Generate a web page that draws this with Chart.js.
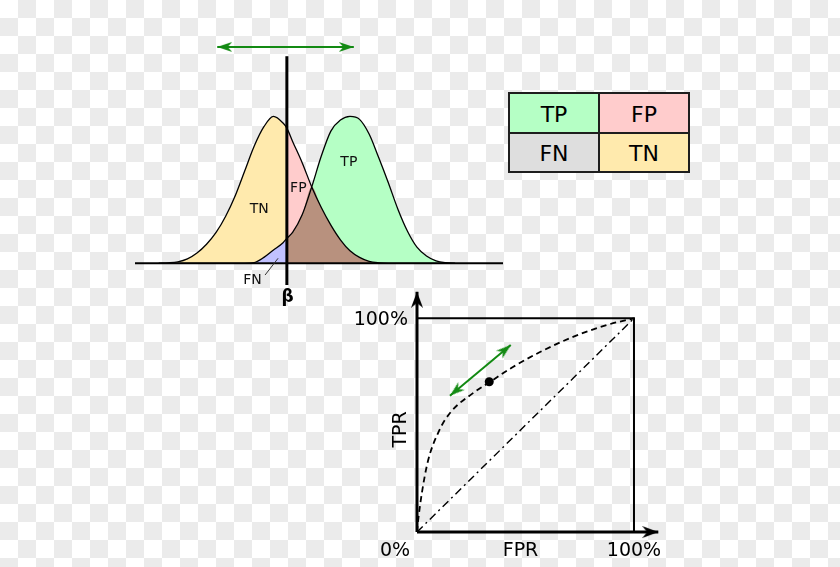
<!DOCTYPE html>
<html>
<head>
<meta charset="utf-8">
<script src="https://cdn.jsdelivr.net/npm/chart.js@4"></script>
<style>
  html, body { margin: 0; padding: 0; }
  body {
    width: 840px; height: 567px; position: relative; overflow: hidden;
    background: repeating-conic-gradient(#ebebeb 0 25%, #ffffff 0 50%) 0 0 / 36px 36px;
    font-family: 'DejaVu Sans', sans-serif;
  }
  canvas { position: absolute; left: 0; top: 0; }
  #matrix {
    position: absolute; left: 508px; top: 92px; width: 182px; height: 81px;
    box-sizing: border-box; padding: 2px; gap: 2px; background: #1e1e1e;
    display: grid; grid-template-columns: 1fr 1fr; grid-template-rows: 1fr 1fr;
  }
  #matrix div {
    display: flex; align-items: center; justify-content: center;
    font-size: 22px; color: #000; padding-top: 3px; box-sizing: border-box;
  }
</style>
</head>
<body>
<canvas id="dist" width="840" height="567"></canvas>
<canvas id="roc" width="840" height="567"></canvas>
<div id="matrix"></div>
<script>
// score axis samples, with the threshold beta as one of them
const scoreX = [1.0, 1.25, 1.5, 1.75, 2.0, 2.25, 2.5, 2.75, 3.0, 3.25, 3.5, 3.75, 4.0, 4.25, 4.35,
  4.5, 4.75, 5.0, 5.25, 5.5, 5.75, 6.0, 6.25, 6.5, 6.75, 7.0, 7.25, 7.5, 7.75, 8.0, 8.25, 8.5, 8.75];
const negativeDensity = [0, 0.003, 0.01, 0.03, 0.07, 0.13, 0.21, 0.32, 0.46, 0.63, 0.80, 0.93, 1.0, 0.955, 0.92,
  0.83, 0.685, 0.52, 0.38, 0.26, 0.16, 0.085, 0.04, 0.013, 0.003, 0, 0, 0, 0, 0, 0, 0, 0];
const positiveDensity = [0, 0, 0, 0, 0, 0, 0, 0, 0, 0, 0.005, 0.04, 0.09, 0.14, 0.17,
  0.21, 0.33, 0.52, 0.73, 0.90, 0.975, 1.0, 0.98, 0.88, 0.72, 0.55, 0.37, 0.22, 0.11, 0.05, 0.017, 0.004, 0];
const threshold = 4.35;

// ROC curve
const rocFPR = [0, 0.006, 0.022, 0.05, 0.1, 0.152, 0.258, 0.336, 0.442, 0.567, 0.719, 0.876, 1];
const rocTPR = [0, 0.06, 0.18, 0.33, 0.47, 0.557, 0.65, 0.702, 0.772, 0.842, 0.913, 0.969, 1];
const operatingPoint = { fpr: 0.333, tpr: 0.703 };

// confusion matrix
const matrixLabels = [['TP', 'FP'], ['FN', 'TN']];

const colors = {
  TN: '#ffeaad', FP: '#ffcccc', TP: '#b5ffc5', FN: '#dedede',
  fnArea: '#c1c1ff', overlap: '#b8917e', arrow: '#138a13'
};

const matrixColors = [[colors.TP, colors.FP], [colors.FN, colors.TN]];
const matrix = document.getElementById('matrix');
matrixLabels.forEach((row, r) => row.forEach((label, c) => {
  const cell = document.createElement('div');
  cell.textContent = label;
  cell.style.background = matrixColors[r][c];
  matrix.appendChild(cell);
}));

function arrowHead(color, len, half) {
  const c = document.createElement('canvas');
  c.width = len * 2;
  c.height = half * 2 + 2;
  const g = c.getContext('2d');
  const cy = c.height / 2;
  g.fillStyle = color;
  g.beginPath();
  g.moveTo(len, cy);
  g.lineTo(0, cy - half);
  g.lineTo(len * 0.3, cy);
  g.lineTo(0, cy + half);
  g.closePath();
  g.fill();
  return c;
}

function headAngle(ctx) {
  if (ctx.type !== 'data') return 0;
  const data = ctx.dataset.data;
  const i = ctx.dataIndex;
  const from = data[i === 0 ? 1 : i - 1];
  const to = data[i];
  const sx = ctx.chart.scales.x, sy = ctx.chart.scales.y;
  const dx = sx.getPixelForValue(to.x) - sx.getPixelForValue(from.x);
  const dy = sy.getPixelForValue(to.y) - sy.getPixelForValue(from.y);
  return Math.atan2(dy, dx) * 180 / Math.PI;
}

// text drawn at data positions; 'base' moves the alphabetic baseline below the visual centre
function textLabels(items) {
  return {
    id: 'textLabels',
    afterDatasetsDraw(chart) {
      const { ctx, scales: { x, y } } = chart;
      items.forEach(t => {
        ctx.save();
        ctx.font = (t.weight || '') + ' ' + t.size + 'px "DejaVu Sans"';
        ctx.fillStyle = t.color || '#000';
        ctx.textAlign = t.align || 'center';
        ctx.textBaseline = 'alphabetic';
        ctx.translate(x.getPixelForValue(t.x) + (t.dx || 0), y.getPixelForValue(t.y) + (t.dy || 0));
        ctx.rotate((t.rot || 0) * Math.PI / 180);
        ctx.fillText(t.text, 0, (t.base == null ? 0.365 : t.base) * t.size);
        ctx.restore();
      });
    }
  };
}

const pts = (xs, ys) => xs.map((x, i) => ({ x, y: ys[i] }));
const leftIdx = scoreX.map((x, i) => i).filter(i => scoreX[i] <= threshold);
const rightIdx = scoreX.map((x, i) => i).filter(i => scoreX[i] >= threshold);
const pick = (idx, ys) => idx.map(i => ({ x: scoreX[i], y: ys[i] }));
const overlap = scoreX.map((x, i) => Math.min(negativeDensity[i], positiveDensity[i]));

const area = (data, color, order) => ({
  data, fill: 'origin', backgroundColor: color, borderWidth: 0,
  cubicInterpolationMode: 'monotone', order
});

const greenHead = arrowHead(colors.arrow, 15, 5);
const blackHead = arrowHead('#000', 16, 6);

new Chart(document.getElementById('dist'), {
  type: 'line',
  data: {
    datasets: [
      area(pick(leftIdx, negativeDensity), colors.TN, 20),
      area(pick(leftIdx, positiveDensity), colors.fnArea, 19),
      area(pick(rightIdx, negativeDensity), colors.FP, 18),
      area(pick(rightIdx, positiveDensity), colors.TP, 17),
      area(pick(rightIdx, overlap), colors.overlap, 16),
      { data: pts(scoreX, negativeDensity), borderColor: '#000', borderWidth: 1.3, fill: false,
        cubicInterpolationMode: 'monotone', order: 10 },
      { data: pts(scoreX, positiveDensity), borderColor: '#000', borderWidth: 1.3, fill: false,
        cubicInterpolationMode: 'monotone', order: 10 },
      // baseline
      { data: [{ x: 0.38, y: 0 }, { x: 10, y: 0 }], borderColor: '#000', borderWidth: 2, order: 9 },
      // threshold beta
      { data: [{ x: threshold, y: -0.148 }, { x: threshold, y: 1.41 }], borderColor: '#000', borderWidth: 3, order: 8 },
      // FN leader line
      { data: [{ x: 3.78, y: -0.08 }, { x: 4.12, y: 0.034 }], borderColor: '#333', borderWidth: 1, order: 7 },
      // threshold shift arrow
      { data: [{ x: 2.53, y: 1.473 }, { x: 6.10, y: 1.473 }], borderColor: colors.arrow, borderWidth: 2,
        pointStyle: greenHead, pointRadius: 6, pointRotation: headAngle, order: 6 }
    ]
  },
  options: {
    responsive: false,
    animation: false,
    events: [],
    layout: { padding: { left: 135, right: 337, top: 43, bottom: 267 } },
    scales: {
      x: { type: 'linear', display: false, min: 0.38, max: 10 },
      y: { display: false, min: -0.25, max: 1.5 }
    },
    elements: { point: { radius: 0 } },
    datasets: { line: { clip: false } },
    plugins: { legend: { display: false }, tooltip: { enabled: false } }
  },
  plugins: [textLabels([
    { text: 'TN', x: 3.63, y: 0.377, size: 14, color: '#111' },
    { text: 'FP', x: 4.65, y: 0.52, size: 14, color: '#111' },
    { text: 'TP', x: 5.97, y: 0.70, size: 14, color: '#111' },
    { text: 'FN', x: 3.45, y: -0.107, size: 14, color: '#111' },
    { text: 'β', x: 4.37, y: -0.226, size: 17, weight: 'bold', base: 0.3 }
  ])]
});

const axisHead = ctx => (ctx.dataIndex === 1 ? 6 : 0);

new Chart(document.getElementById('roc'), {
  type: 'line',
  data: {
    datasets: [
      // box
      { data: [{ x: 0, y: 1 }, { x: 1, y: 1 }, { x: 1, y: 0 }], borderColor: '#000', borderWidth: 2 },
      // axes with arrows
      { data: [{ x: 0, y: 0 }, { x: 0, y: 1.124 }], borderColor: '#000', borderWidth: 3,
        pointStyle: blackHead, pointRadius: axisHead, pointRotation: headAngle },
      { data: [{ x: 0, y: 0 }, { x: 1.112, y: 0 }], borderColor: '#000', borderWidth: 3,
        pointStyle: blackHead, pointRadius: axisHead, pointRotation: headAngle },
      // chance diagonal
      { data: [{ x: 0, y: 0 }, { x: 1, y: 1 }], borderColor: '#000', borderWidth: 1.4, borderDash: [8, 4, 2, 4] },
      // ROC curve
      { data: pts(rocFPR, rocTPR), borderColor: '#000', borderWidth: 1.8, borderDash: [6, 4],
        cubicInterpolationMode: 'monotone' },
      // operating point
      { data: [{ x: operatingPoint.fpr, y: operatingPoint.tpr }], showLine: false, pointRadius: 4.5,
        pointBackgroundColor: '#000', pointBorderWidth: 0 },
      // shift arrow
      { data: [{ x: 0.152, y: 0.638 }, { x: 0.432, y: 0.875 }], borderColor: colors.arrow, borderWidth: 2,
        pointStyle: greenHead, pointRadius: 6, pointRotation: headAngle }
    ]
  },
  options: {
    responsive: false,
    animation: false,
    events: [],
    layout: { padding: { left: 395.3, right: 171.3, top: 284.1, bottom: 13.6 } },
    scales: {
      x: { type: 'linear', display: false, min: -0.1, max: 1.16 },
      y: { display: false, min: -0.1, max: 1.16 }
    },
    elements: { point: { radius: 0 } },
    datasets: { line: { clip: false } },
    plugins: { legend: { display: false }, tooltip: { enabled: false } }
  },
  plugins: [textLabels([
    { text: '100%', x: 0, y: 1, dx: -9, align: 'right', size: 19 },
    { text: '0%', x: 0, y: 0, dx: -22, dy: 17.5, size: 19 },
    { text: 'FPR', x: 0.477, y: 0, dy: 17.5, size: 19 },
    { text: '100%', x: 1, y: 0, dy: 17.5, size: 19 },
    { text: 'TPR', x: 0, y: 0.48, dx: -18, rot: -90, size: 19 }
  ])]
});
</script>
</body>
</html>
